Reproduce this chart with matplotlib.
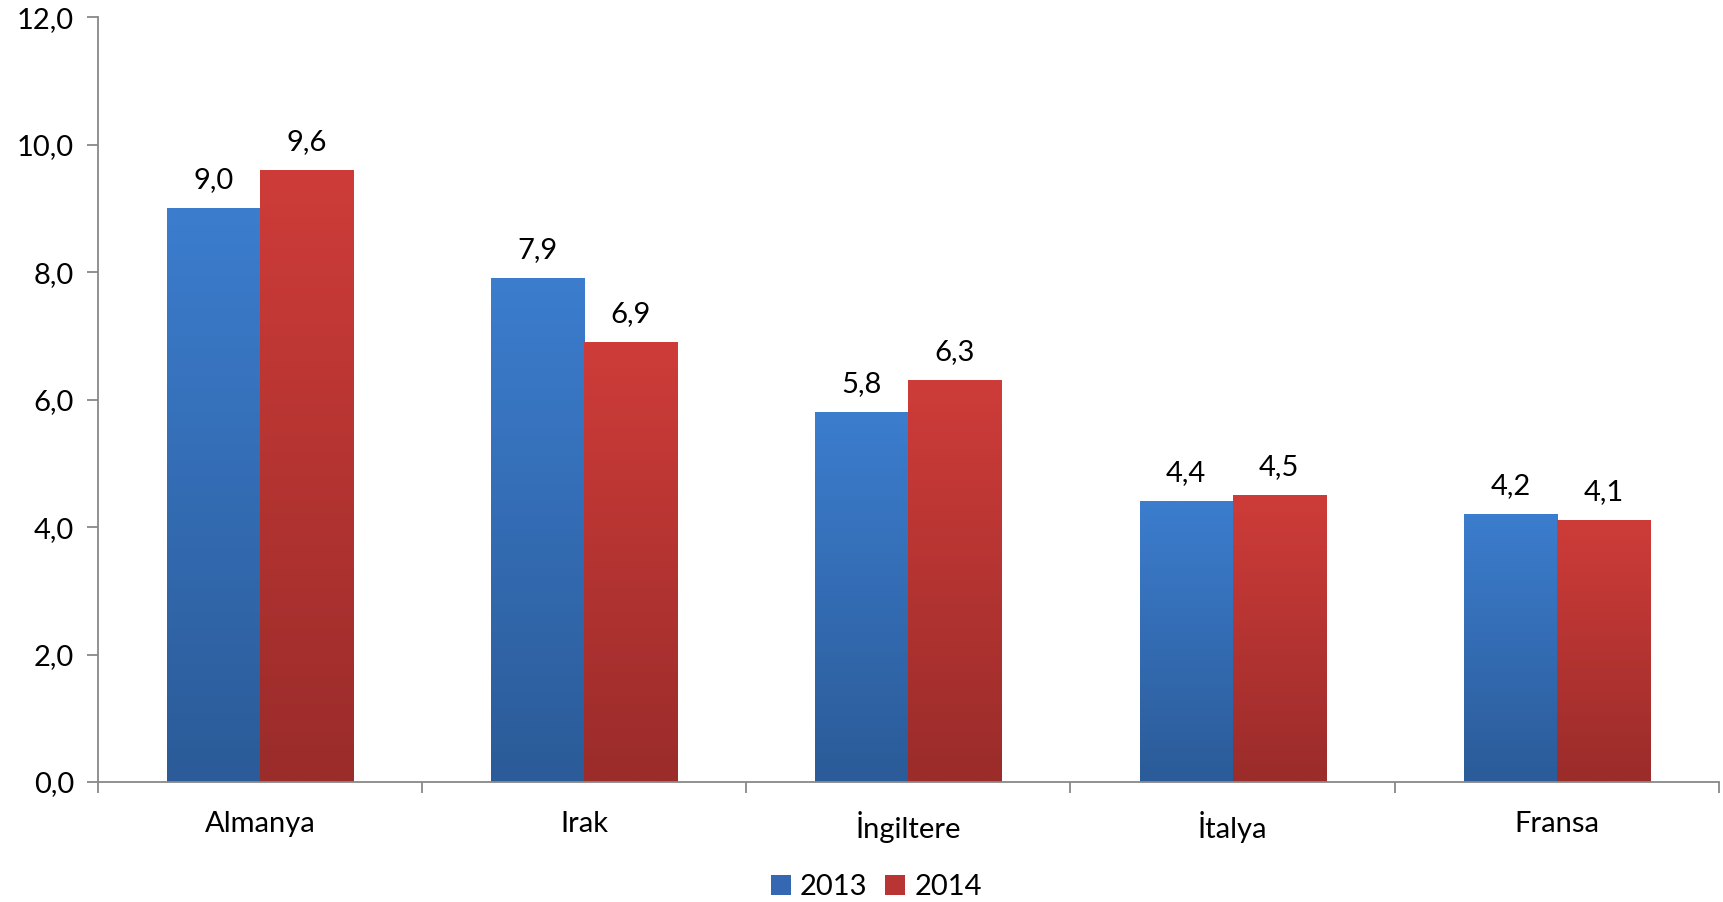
import numpy as np
import matplotlib.pyplot as plt
from matplotlib.patches import Patch
from matplotlib.ticker import FuncFormatter, FixedLocator
from matplotlib.colors import LinearSegmentedColormap

countries = ["Almanya", "Irak", "İngiltere", "İtalya", "Fransa"]
years = ["2013", "2014"]
v2013 = [9.0, 7.9, 5.8, 4.4, 4.2]
v2014 = [9.6, 6.9, 6.3, 4.5, 4.1]

# gradient colours (top, bottom)
blue_top, blue_bot = "#3C7DCE", "#2B5B98"
red_top, red_bot = "#CE3C39", "#9A2C2A"

plt.rcParams["font.family"] = ["Lato", "DejaVu Sans"]
fs = 21

fig = plt.figure(figsize=(17.23, 9.02), dpi=100)
ax = fig.add_axes([0.0567, 0.133, 0.9410, 0.8478])

x = np.arange(len(countries))
w = 0.287

grad = np.linspace(1, 0, 256).reshape(-1, 1)
for vals, off, top, bot in [(v2013, -w / 2, blue_top, blue_bot),
                            (v2014, w / 2, red_top, red_bot)]:
    cmap = LinearSegmentedColormap.from_list("g", [bot, top])
    bars = ax.bar(x + off, vals, w, color="none", edgecolor="none", zorder=2)
    for b, v in zip(bars, vals):
        x0 = b.get_x()
        ax.imshow(grad, cmap=cmap, aspect="auto", zorder=2,
                  extent=[x0, x0 + w, 0, v], vmin=0, vmax=1)
        ax.annotate(f"{v:.1f}".replace(".", ","), (x0 + w / 2, v),
                    xytext=(0, 11), textcoords="offset points",
                    ha="center", va="bottom", fontsize=fs)

ax.set_xlim(-0.5, len(countries) - 0.5)
ax.set_ylim(0, 12)
ax.set_yticks(np.arange(0, 12.1, 2))
ax.yaxis.set_major_formatter(FuncFormatter(lambda v, p: f"{v:.1f}".replace(".", ",")))

ax.xaxis.set_major_locator(FixedLocator(np.arange(-0.5, len(countries), 1)))
ax.xaxis.set_minor_locator(FixedLocator(x))
ax.set_xticklabels([], minor=False)
ax.set_xticklabels(countries, minor=True)
ax.tick_params(axis="x", which="major", length=8, color="#888888", width=1.3)
ax.tick_params(axis="x", which="minor", length=0, pad=21, labelsize=fs)
ax.tick_params(axis="y", length=8, color="#888888", width=1.3, labelsize=fs, pad=9)

for s in ["top", "right"]:
    ax.spines[s].set_visible(False)
for s in ["left", "bottom"]:
    ax.spines[s].set_color("#888888")
    ax.spines[s].set_linewidth(1.3)

handles = [Patch(facecolor="#3468B2", label=years[0]),
           Patch(facecolor="#B83533", label=years[1])]
fig.legend(handles=handles, loc="lower center", bbox_to_anchor=(0.5086, -0.027),
           ncol=2, frameon=False, fontsize=fs, handlelength=0.7,
           handleheight=0.7, handletextpad=0.3, columnspacing=0.6)

fig.savefig("out.png", dpi=100)
